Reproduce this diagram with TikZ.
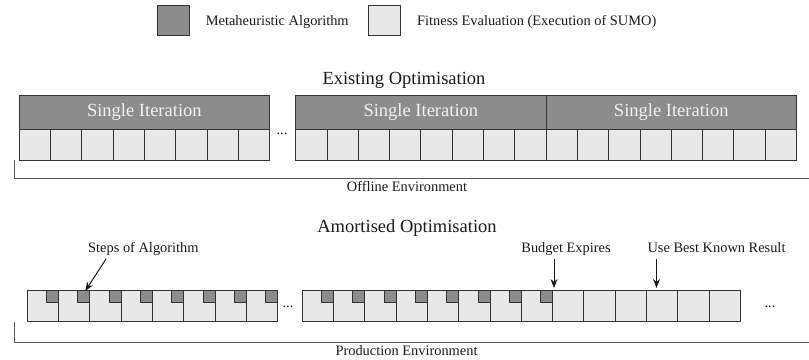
\documentclass[tikz,border=0pt]{standalone}
\usepackage{fontspec}
\setmainfont{Liberation Serif}
\usetikzlibrary{arrows.meta}
\definecolor{algo}{HTML}{8C8C8C}
\definecolor{fitness}{HTML}{E8E8E8}
\definecolor{edge}{HTML}{333333}
\definecolor{ink}{HTML}{1A1A1A}
\newcommand{\smalltext}{\fontsize{14.4}{17}\selectfont}
\newcommand{\bigtext}{\fontsize{18.5}{22}\selectfont}
\tikzset{
  evalcell/.style={draw=edge, fill=fitness, line width=0.9pt, inner sep=0pt,
    minimum width=31.3pt, minimum height=31pt, anchor=north west},
  stepcell/.style={draw=edge, fill=algo, line width=0.9pt, inner sep=0pt,
    minimum width=12pt, minimum height=12pt, anchor=north east},
  iterbar/.style={draw=edge, fill=algo, line width=0.9pt, inner sep=0pt,
    minimum width=250.4pt, minimum height=34pt, anchor=north west,
    text=white!95!black, font=\bigtext},
  legendbox/.style={draw=edge, line width=0.9pt, inner sep=0pt,
    minimum width=32pt, minimum height=30pt, anchor=north west},
  label/.style={text=ink, inner sep=0pt, anchor=base},
  pointer/.style={draw=ink, line width=1pt, -{Stealth[length=9pt,width=7pt]}},
  bracket/.style={draw=edge!80, line width=0.9pt}
}
\begin{document}
\begin{tikzpicture}[x=1pt, y=-1pt]
\useasboundingbox (0,0) rectangle (809,359);

% legend
\node[legendbox, fill=algo] (keyalgo) at (157,5) {};
\node[label, anchor=base west, font=\smalltext] (keyalgotext) at (205.7,25) {Metaheuristic Algorithm};
\node[legendbox, fill=fitness] (keyfit) at (368,5) {};
\node[label, anchor=base west, font=\smalltext] (keyfittext) at (417,25) {Fitness Evaluation (Execution of SUMO)};

% existing optimisation: whole iterations of algorithm + evaluations
\node[label, font=\bigtext] (existing) at (404,84.3) {Existing Optimisation};
\foreach \b/\x in {1/18.7, 2/295.2, 3/545.6} {
  \node[iterbar] (bar\b) at (\x,95) {Single Iteration};
  \foreach \i in {1,...,8} {
    \node[evalcell] (e\b-\i) at ({\x+(\i-1)*31.3},129) {};
  }
}
\node[label, font=\smalltext] (gapA) at (282,134.5) {...};
\node[label, font=\smalltext] (offline) at (407,191.7) {Offline Environment};
\coordinate (offA) at (14,160);
\coordinate (offB) at (809,178);
\draw[bracket] (offA) |- (offB);

% amortised optimisation: one algorithm step per evaluation
\node[label, font=\bigtext] (amortised) at (407,232.3) {Amortised Optimisation};
\foreach \i in {1,...,8} {
  \node[evalcell] (a\i) at ({26.7+(\i-1)*31.3},290) {};
  \node[stepcell] (s\i) at (a\i.north east) {};
}
\foreach \i in {1,...,14} {
  \node[evalcell] (b\i) at ({301.7+(\i-1)*31.3},290) {};
}
\foreach \i in {1,...,8} {
  \node[stepcell] (t\i) at (b\i.north east) {};
}
\node[label, font=\smalltext] (gapB) at (288,307) {...};
\node[label, font=\smalltext] (gapC) at (770,307) {...};

\node[label, anchor=base west, font=\smalltext] (steps) at (88,252) {Steps of Algorithm};
\node[label, font=\smalltext] (budget) at (566,252) {Budget Expires};
\node[label, font=\smalltext] (bestres) at (716.5,252) {Use Best Known Result};

\coordinate (stepsfrom) at (106,259);
\draw[pointer] (stepsfrom) -- ([xshift=1.5pt,yshift=-1pt]s2.north);
\coordinate (budgetfrom) at (554,259);
\draw[pointer] (budgetfrom) -- (554,288);
\coordinate (bestfrom) at (656.5,259);
\draw[pointer] (bestfrom) -- (656.5,288);

\node[label, font=\smalltext] (production) at (406.5,355.3) {Production Environment};
\coordinate (prodA) at (14,322);
\coordinate (prodB) at (809,342);
\draw[bracket] (prodA) |- (prodB);
\end{tikzpicture}
\end{document}
